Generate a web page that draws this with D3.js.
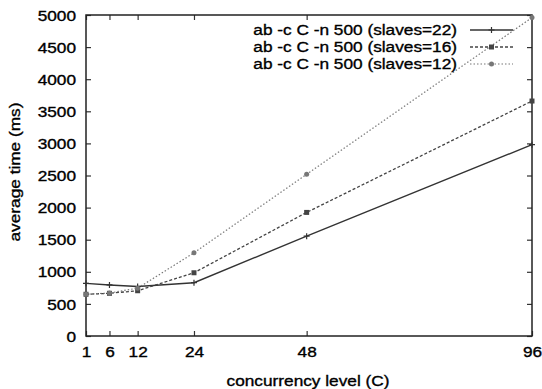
<!DOCTYPE html>
<html>
<head>
<meta charset="utf-8">
<script src="https://cdn.jsdelivr.net/npm/d3@7"></script>
<style>
  body { margin: 0; background: #fff; }
  text { font-family: "Liberation Sans", Arial, sans-serif; fill: #000; stroke: #000; stroke-width: 0.35px; }
</style>
</head>
<body>
<script>
const WIDTH = 542;
const HEIGHT = 389;
const MARGIN = {top: 15, right: 10, bottom: 53, left: 86};
const SX = 1.15; // scanned text is a little wide

var concurrency = [1, 6, 12, 24, 48, 96];
var yTicks = [0, 500, 1000, 1500, 2000, 2500, 3000, 3500, 4000, 4500, 5000];

var slaves22 = [820, 795, 770, 830, 1555, 2980];
var slaves16 = [650, 665, 705, 985, 1925, 3660];
var slaves12 = [650, 670, 745, 1295, 2520, 4960];

var seriesNames = ['ab -c C -n 500 (slaves=22)', 'ab -c C -n 500 (slaves=16)', 'ab -c C -n 500 (slaves=12)'];

var translate = function(x, y){
  return "translate(" + x + "," + y + ")";
};

var xScale = d3.scaleLinear()
  .domain([1, 96])
  .range([MARGIN.left, WIDTH - MARGIN.right]);

var yScale = d3.scaleLinear()
  .domain([0, 5000])
  .range([HEIGHT - MARGIN.bottom, MARGIN.top]);

var svg = d3.select('body').append('svg')
  .attr('width', WIDTH)
  .attr('height', HEIGHT);

var styles = [
  {data: slaves22, color: '#333', dash: null, width: 1.4, marker: 'plus'},
  {data: slaves16, color: '#444', dash: '3,2', width: 1.3, marker: 'square'},
  {data: slaves12, color: '#777', dash: '1.5,2', width: 1.2, marker: 'circle'}
];

var line = d3.line()
  .x(function(d, i){ return xScale(concurrency[i]); })
  .y(function(d){ return yScale(d); });

var drawMarker = function(g, type, x, y, color){
  if (type === 'plus') {
    g.append('path')
      .attr('d', 'M' + (x - 3) + ',' + y + 'H' + (x + 3) + 'M' + x + ',' + (y - 3) + 'V' + (y + 3))
      .attr('stroke', color).attr('stroke-width', 1.2);
  } else if (type === 'square') {
    g.append('rect')
      .attr('x', x - 2.5).attr('y', y - 2.5)
      .attr('width', 5).attr('height', 5)
      .attr('fill', color);
  } else {
    g.append('circle')
      .attr('cx', x).attr('cy', y).attr('r', 2.5)
      .attr('fill', color);
  }
};

var scaledText = function(sel){
  sel.each(function(){
    var t = d3.select(this);
    var x = +t.attr('x') || 0, y = +t.attr('y') || 0;
    t.attr('x', null).attr('y', null)
      .attr('transform', translate(x, y) + ' scale(' + SX + ',1)');
  });
};

// axes
var xAxis = d3.axisBottom(xScale).tickValues(concurrency).tickSize(-5).tickPadding(10).tickFormat(d3.format('d'));
var yAxis = d3.axisLeft(yScale).tickValues(yTicks).tickSize(-5).tickPadding(10).tickFormat(d3.format('d'));

var gx = svg.append('g')
  .attr('transform', translate(0, HEIGHT - MARGIN.bottom))
  .call(xAxis);
var gy = svg.append('g')
  .attr('transform', translate(MARGIN.left, 0))
  .call(yAxis);

svg.append('g')
  .attr('transform', translate(0, MARGIN.top))
  .call(d3.axisTop(xScale).tickValues(concurrency).tickSize(-5).tickFormat(''));
svg.append('g')
  .attr('transform', translate(WIDTH - MARGIN.right, 0))
  .call(d3.axisRight(yScale).tickValues(yTicks).tickSize(-5).tickFormat(''));

svg.selectAll('.domain').remove();
svg.selectAll('.tick line').attr('stroke', '#333').attr('stroke-width', 1.2);
svg.selectAll('.tick text')
  .style('font-size', '15px')
  .attr('font-family', null)
  .attr('fill', null);
scaledText(gx.selectAll('.tick text').attr('dy', '0.71em'));
scaledText(gy.selectAll('.tick text').attr('dy', '0.34em'));

// frame
svg.append('rect')
  .attr('x', MARGIN.left).attr('y', MARGIN.top)
  .attr('width', WIDTH - MARGIN.left - MARGIN.right)
  .attr('height', HEIGHT - MARGIN.top - MARGIN.bottom)
  .attr('fill', 'none').attr('stroke', '#222').attr('stroke-width', 1.5);

// series
styles.forEach(function(s){
  var g = svg.append('g');
  g.append('path')
    .attr('d', line(s.data))
    .attr('fill', 'none')
    .attr('stroke', s.color)
    .attr('stroke-width', s.width)
    .attr('stroke-dasharray', s.dash);
  s.data.forEach(function(d, i){
    drawMarker(g, s.marker, xScale(concurrency[i]), yScale(d), s.color);
  });
});

// legend
var legend = svg.append('g');
styles.forEach(function(s, i){
  var y = 30 + i * 17;
  legend.append('text')
    .attr('transform', translate(457, y) + ' scale(' + SX + ',1)')
    .attr('dy', '0.35em')
    .attr('text-anchor', 'end')
    .style('font-size', '15px')
    .text(seriesNames[i]);
  legend.append('path')
    .attr('d', 'M470,' + y + 'H513')
    .attr('stroke', s.color)
    .attr('stroke-width', s.width)
    .attr('stroke-dasharray', s.dash);
  drawMarker(legend, s.marker, 491.5, y, s.color);
});

// axis titles
svg.append('text')
  .attr('transform', translate(308, 381) + ' scale(' + SX + ',1)')
  .attr('dy', '0.35em')
  .attr('text-anchor', 'middle')
  .style('font-size', '15px')
  .text('concurrency level (C)');

svg.append('text')
  .attr('transform', translate(15, 172) + ' rotate(-90) scale(' + SX + ',1)')
  .attr('dy', '0.35em')
  .attr('text-anchor', 'middle')
  .style('font-size', '15px')
  .text('average time (ms)');
</script>
</body>
</html>
